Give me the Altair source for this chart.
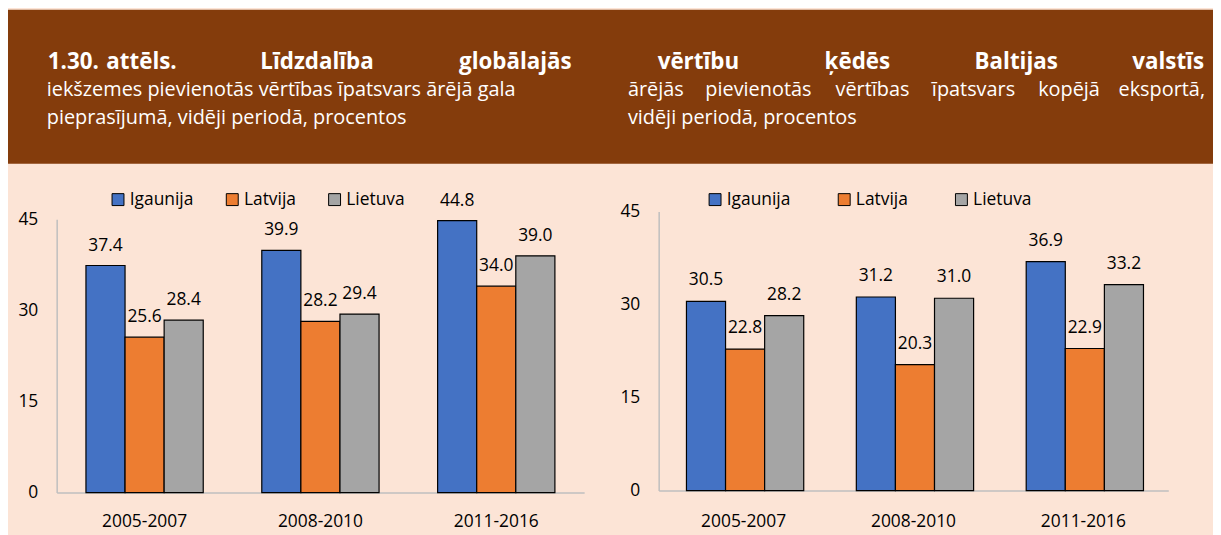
import altair as alt
import pandas as pd

# ---------------- data ----------------
periods = ["2005-2007", "2008-2010", "2011-2016"]
countries = ["Igaunija", "Latvija", "Lietuva"]

left_igaunija = [37.4, 39.9, 44.8]
left_latvija = [25.6, 28.2, 34.0]
left_lietuva = [28.4, 29.4, 39.0]

right_igaunija = [30.5, 31.2, 36.9]
right_latvija = [22.8, 20.3, 22.9]
right_lietuva = [28.2, 31.0, 33.2]

y_ticks = [0, 15, 30, 45]

title_words = ["1.30.", "attēls.", "Līdzdalība", "globālajās", "vērtību", "ķēdēs", "Baltijas", "valstīs"]
left_subtitle = ["iekšzemes pievienotās vērtības īpatsvars ārējā gala",
                 "pieprasījumā, vidēji periodā, procentos"]
right_subtitle_words = ["ārējās", "pievienotās", "vērtības", "īpatsvars", "kopējā", "eksportā,"]
right_subtitle_line2 = "vidēji periodā, procentos"

# ---------------- style ----------------
FONT = "Open Sans"
BROWN = "#843C0C"
PEACH = "#FCE4D6"
COLORS = ["#4472C4", "#ED7D31", "#A5A5A5"]
AXIS_GREY = "#BFBFBF"
TXT = 17.5


def long_df(a, b, c):
    rows = []
    for series, name in zip([a, b, c], countries):
        for p, v in zip(periods, series):
            rows.append({"period": p, "country": name, "value": v})
    return pd.DataFrame(rows)


# ---------------- header ----------------
one = pd.DataFrame({"d": [0]})
hb = alt.Chart(one)
hlayers = []

title_x = [40, 99, 254, 454, 654, 822, 973, 1204]
for w, x in zip(title_words, title_x):
    hlayers.append(
        hb.mark_text(text=w, align="right" if w == title_words[-1] else "left",
                     baseline="alphabetic", font=FONT, fontSize=22.5, fontWeight="bold",
                     color="white").encode(x=alt.value(x), y=alt.value(60))
    )

for line, yy in zip(left_subtitle, [87, 115]):
    hlayers.append(
        hb.mark_text(text=line, align="left", baseline="alphabetic", font=FONT,
                     fontSize=20, color="white").encode(x=alt.value(39), y=alt.value(yy))
    )

sub_x = [624, 702, 833, 930, 1037, 1205]
for w, x in zip(right_subtitle_words, sub_x):
    hlayers.append(
        hb.mark_text(text=w, align="right" if w == right_subtitle_words[-1] else "left",
                     baseline="alphabetic", font=FONT, fontSize=20,
                     color="white").encode(x=alt.value(x), y=alt.value(87))
    )
hlayers.append(
    hb.mark_text(text=right_subtitle_line2, align="left", baseline="alphabetic", font=FONT,
                 fontSize=20, color="white").encode(x=alt.value(624), y=alt.value(115))
)

header = alt.layer(*hlayers).properties(
    width=1213, height=155, view=alt.ViewBackground(fill=BROWN, stroke=None)
)


# ---------------- bar panels ----------------
def panel(df, width, height, yrange, pad_inner, legend_x, col_pad, label_dy, xlab_pad):
    base = alt.Chart(df).encode(
        x=alt.X("period:N", sort=periods,
                scale=alt.Scale(paddingInner=pad_inner, paddingOuter=pad_inner / 2),
                axis=alt.Axis(title=None, labelAngle=0, ticks=False, labelPadding=xlab_pad,
                              labelFontSize=TXT, labelFont=FONT, labelColor="black",
                              domainColor=AXIS_GREY, domainWidth=1.5)),
        xOffset=alt.XOffset("country:N", sort=countries),
        y=alt.Y("value:Q",
                scale=alt.Scale(domain=[0, 45], range=yrange, nice=False, zero=True),
                axis=alt.Axis(title=None, values=y_ticks, grid=False, ticks=False,
                              labelPadding=19, labelFontSize=TXT, labelFont=FONT,
                              labelColor="black", domainColor=AXIS_GREY, domainWidth=1.5)),
    )
    bars = base.mark_bar(stroke="black", strokeWidth=1.2).encode(
        color=alt.Color("country:N", sort=countries,
                        scale=alt.Scale(domain=countries, range=COLORS),
                        legend=alt.Legend(orient="none", legendX=legend_x, legendY=-21,
                                          direction="horizontal", title=None,
                                          symbolType="square", symbolSize=144,
                                          symbolStrokeColor="black", symbolStrokeWidth=1,
                                          labelFont=FONT, labelFontSize=TXT,
                                          labelColor="black", columnPadding=col_pad,
                                          labelOffset=3, padding=0))
    )
    labels = base.mark_text(baseline="alphabetic", dy=label_dy, font=FONT, fontSize=TXT,
                            color="black").encode(text=alt.Text("value:Q", format=".1f"))
    return alt.layer(bars, labels).properties(width=width, height=height)


left_df = long_df(left_igaunija, left_latvija, left_lietuva)
right_df = long_df(right_igaunija, right_latvija, right_lietuva)

left = panel(left_df, 531, 283, [283, 8], 0.333, 53, 30, -15, 20)
right = panel(right_df, 513, 281, [281, 0], 0.327, 48, 45, -16, 22)


def spacer(w):
    return alt.Chart(one).mark_point(opacity=0).properties(width=w, height=10)


row = alt.hconcat(spacer(49), left, spacer(75), right, spacing=0, bounds="flush").resolve_scale(
    color="independent").resolve_legend(color="independent")

chart = alt.vconcat(header, row, spacing=48, bounds="flush").properties(
    background=PEACH, padding={"left": 0, "top": 0, "right": 0, "bottom": 6}
).configure_view(stroke=None)

chart.save("out.html", embed_options={"renderer": "svg", "actions": False})
